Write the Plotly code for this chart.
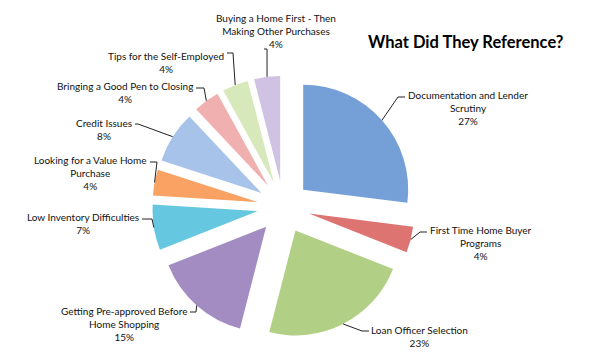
import math
import plotly.graph_objects as go

# ---- data ----
categories = [
    "Documentation and Lender<br>Scrutiny",
    "First Time Home Buyer<br>Programs",
    "Loan Officer Selection",
    "Getting Pre-approved Before<br>Home Shopping",
    "Low Inventory Difficulties",
    "Looking for a Value Home<br>Purchase",
    "Credit Issues",
    "Bringing a Good Pen to Closing",
    "Tips for the Self-Employed",
    "Buying a Home First - Then<br>Making Other Purchases",
]
values = [27, 4, 23, 15, 7, 4, 8, 4, 4, 4]
title_text = "What Did They Reference?"

# ---- styles / layout ----
colors = ["#74A0D7", "#DD7472", "#B2D085", "#A38CC2", "#66C7E0",
          "#F9A263", "#A8C3E9", "#F1B0B0", "#D7E9BB", "#CFC2E2"]
W, H = 590, 360
CX, CY = 283.5, 207.0     # pie centre in px
R = 105.0                 # slice radius in px
PULL = 0.25               # pull as fraction of radius
FONT = "Lato"

# label layout: (centre x, centre y of text block, leader start, elbow)
label_layout = [
    (468, 108, (405, 97), (398, 97)),
    (481, 243, (427, 232), (420, 232)),
    (419, 336, (369, 331), (362, 331)),
    (123.5, 324, (190, 312), (196, 312)),
    (83, 223.5, (142, 219), (152, 219)),
    (90, 173, (150, 162), (157, 162)),
    (104, 129, (135, 124), (138, 124)),
    (125, 93, (196, 88), (204, 88)),
    (166, 62, (227, 53), (233, 53)),
    (276, 31, (264, 49), (267, 49)),
]


def px(x, y):
    return x / W, 1 - y / H


box = R * 2 * (1 + PULL)
x0, y1 = px(CX - box / 2, CY - box / 2)
x1, y0 = px(CX + box / 2, CY + box / 2)

fig = go.Figure(go.Pie(
    labels=categories,
    values=values,
    sort=False,
    direction="clockwise",
    rotation=0,
    pull=[PULL] * len(values),
    marker=dict(colors=colors, line=dict(width=0)),
    textinfo="none",
    hoverinfo="none",
    showlegend=False,
    domain=dict(x=[x0, x1], y=[y0, y1]),
))

total = sum(values)
pct = [round(v * 100 / total) for v in values]
annotations = []
shapes = []
cum = 0
for i, v in enumerate(values):
    mid = (cum + v / 2) / total * 2 * math.pi
    cum += v
    rr = R * (1 + PULL)
    axp = CX + rr * math.sin(mid)
    ayp = CY - rr * math.cos(mid)
    lx, ly, (sx, sy), (ex, ey) = label_layout[i]
    tx, ty = px(lx, ly)
    annotations.append(dict(
        x=tx, y=ty, xref="paper", yref="paper",
        text=f"{categories[i]}<br>{pct[i]}%",
        showarrow=False, align="center",
        xanchor="center", yanchor="middle",
        font=dict(family=FONT, size=10, color="#111111"),
    ))
    pts = [px(sx, sy), px(ex, ey), px(axp, ayp)]
    path = "M {} {} L {} {} L {} {}".format(*[c for p in pts for c in p])
    shapes.append(dict(type="path", path=path, xref="paper", yref="paper",
                       line=dict(color="#222222", width=1)))

annotations.append(dict(
    x=px(465, 0)[0], y=px(0, 42)[1], xref="paper", yref="paper",
    text=f"<b>{title_text}</b>", showarrow=False,
    xanchor="center", yanchor="middle",
    font=dict(family=FONT, size=16.5, color="#000000"),
))

fig.update_layout(
    width=W, height=H,
    margin=dict(l=0, r=0, t=0, b=0),
    paper_bgcolor="white", plot_bgcolor="white",
    annotations=annotations, shapes=shapes,
)
fig.write_html("out.html", config={"displayModeBar": False},
               post_script="document.body.style.margin='0px';")
